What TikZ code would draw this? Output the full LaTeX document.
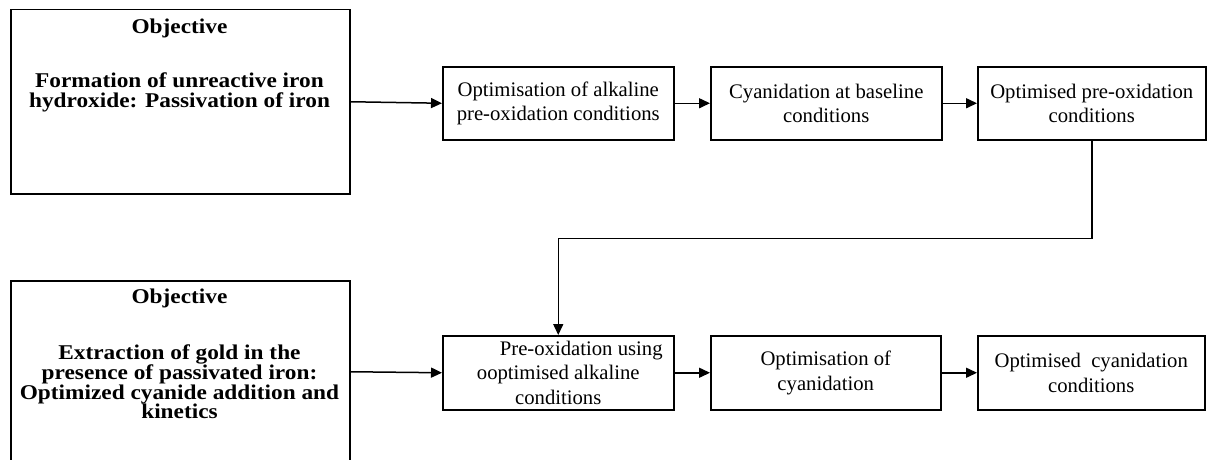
\documentclass[tikz,border=0pt]{standalone}
\usepackage{fontspec}
\setmainfont{Liberation Serif}
\usetikzlibrary{arrows.meta}
\tikzset{
  box/.style={draw, line width=1.5pt, inner sep=0pt, anchor=north west, align=center,
    font=\fontsize{20.7}{24.5}\selectfont},
  boldtxt/.style={inner sep=0pt, align=center,
    font=\fontsize{21}{19.4}\selectfont\bfseries},
  arr/.style={line width=1.5pt, -{Triangle[length=11pt,width=10pt]}},
}
\newcommand{\bxs}[1]{\scalebox{1.11}[1]{#1}}
\begin{document}
\begin{tikzpicture}[x=1pt,y=-1pt]
\useasboundingbox (0,0) rectangle (1209,460);
\clip (0,0) rectangle (1209,460);
\fill[white] (0,0) rectangle (1209,460);
% objective boxes
\node[box, minimum width=339pt, minimum height=184pt] (obj1) at (10,9) {};
\node[box, minimum width=339pt, minimum height=182pt] (obj2) at (10,280) {};
\node[boldtxt] (t1a) at (179.5,28.5) {\bxs{Objective}};
\node[boldtxt] (t1b) at (179.5,92.5) {\bxs{Formation of unreactive iron}\\\bxs{hydroxide: Passivation of iron}};
\node[boldtxt] (t2a) at (179.5,298.5) {\bxs{Objective}};
\node[boldtxt] (t2b) at (179.5,381.5) {\bxs{Extraction of gold in the}\\\bxs{presence of passivated iron:}\\\bxs{Optimized cyanide addition and}\\\bxs{kinetics}};
% top row
\node[box, minimum width=231pt, minimum height=73pt] (A) at (442,66) {Optimisation of alkaline\\pre-oxidation conditions};
\node[box, minimum width=231pt, minimum height=73pt] (B) at (710,66) {Cyanidation at baseline\\conditions};
\node[box, minimum width=228pt, minimum height=73pt] (C) at (977,66) {Optimised pre-oxidation\\conditions};
% bottom row
\node[box, minimum width=231pt, minimum height=74pt] (D) at (442,335) {\hspace*{46pt}Pre-oxidation using\\ooptimised alkaline\\conditions};
\node[box, minimum width=230pt, minimum height=74pt] (E) at (710,335) {Optimisation of\\cyanidation};
\node[box, minimum width=227pt, minimum height=74pt] (F) at (977,335) {Optimised\ \ cyanidation\\conditions};
% connectors
\draw[arr] (obj1.east) -- (A.west);
\draw[arr] (A) -- (B);
\draw[arr] (B) -- (C);
\draw[arr] (C.south) -- ++(0,98) -| (D.north);
\draw[arr] (obj2.east) -- (D.west);
\draw[arr] (D) -- (E);
\draw[arr] (E) -- (F);
\end{tikzpicture}
\end{document}
